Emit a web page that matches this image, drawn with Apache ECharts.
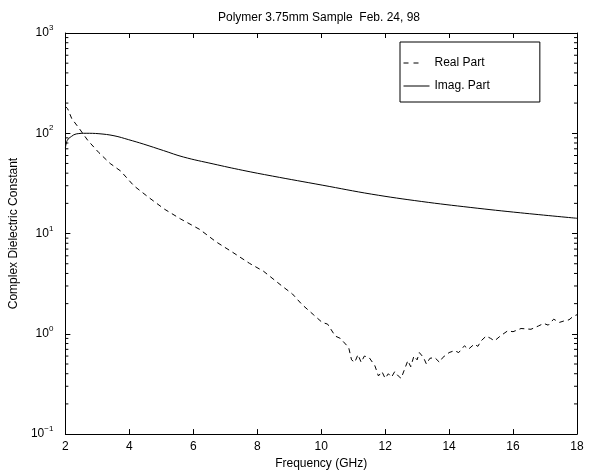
<!DOCTYPE html>
<html>
<head>
<meta charset="utf-8">
<script src="https://cdn.jsdelivr.net/npm/echarts@6/dist/echarts.min.js"></script>
<style>html,body{margin:0;padding:0;background:#fff;}#c{width:589px;height:475px;}</style>
</head>
<body>
<div id="c"></div>
<script>
const titleText = 'Polymer 3.75mm Sample  Feb. 24, 98';
const xName = 'Frequency (GHz)';
const yName = 'Complex Dielectric Constant';
const seriesNames = ['Real Part', 'Imag. Part'];

const imagFreq = [2.0, 2.06, 2.19, 2.34, 2.65, 3.05, 3.52, 3.98, 4.45, 5.07, 5.69, 6.62, 7.55, 8.48, 10.03, 11.58, 13.13, 14.68, 16.23, 18.0];
const imagVals = [71, 85, 93, 98.5, 100, 99, 94.5, 86.3, 77.9, 67.2, 58.0, 49.5, 42.7, 37.4, 30.4, 24.7, 20.9, 18.2, 16.1, 14.2];

const realFreq = [2.0, 2.07, 2.2, 2.43, 2.7, 3.05, 3.4, 3.73, 4.14, 4.6, 5.1, 5.6, 6.2, 6.72, 7.2, 7.76, 8.2, 8.79, 9.1, 9.4, 9.75, 10.03, 10.2, 10.44, 10.6, 10.86, 10.95, 11.05, 11.15, 11.25, 11.35, 11.5, 11.68, 11.79, 11.9, 12.0, 12.1, 12.2, 12.3, 12.41, 12.5, 12.56, 12.71, 12.8, 12.9, 13.0, 13.07, 13.2, 13.29, 13.4, 13.55, 13.7, 13.8, 14.0, 14.17, 14.3, 14.48, 14.6, 14.79, 14.9, 15.0, 15.16, 15.3, 15.42, 15.6, 15.83, 16.0, 16.25, 16.56, 16.8, 16.96, 17.1, 17.27, 17.45, 17.58, 17.75, 17.89, 18.0];
const realVals = [185, 176, 140, 112, 85, 64, 50, 42, 30, 23, 17.5, 14, 11, 8.24, 6.6, 5.04, 4.2, 2.97, 2.5, 1.96, 1.56, 1.3, 1.25, 0.95, 0.9, 0.73, 0.55, 0.52, 0.62, 0.52, 0.6, 0.58, 0.48, 0.38, 0.42, 0.36, 0.4, 0.37, 0.42, 0.38, 0.36, 0.37, 0.54, 0.47, 0.6, 0.55, 0.65, 0.58, 0.5, 0.57, 0.58, 0.52, 0.58, 0.65, 0.68, 0.65, 0.76, 0.7, 0.79, 0.75, 0.85, 0.95, 0.9, 0.85, 0.95, 1.07, 1.05, 1.13, 1.11, 1.2, 1.27, 1.22, 1.4, 1.3, 1.34, 1.38, 1.5, 1.55];

const xTickValues = [2, 4, 6, 8, 10, 12, 14, 16, 18];
const yDecades = [0.1, 1, 10, 100, 1000];

const FONT = 'Liberation Sans, Arial, Helvetica, sans-serif';
const minorVals = [];
for (let d = 0; d < yDecades.length - 1; d++) {
  for (let m = 2; m <= 9; m++) minorVals.push([2, yDecades[d] * m]);
}

function zip(a, b) { return a.map((v, i) => [v, b[i]]); }

const chart = echarts.init(document.getElementById('c'), null, { renderer: 'canvas' });
const axisLineStyle = { color: '#000', width: 1 };
chart.setOption({
  animation: false,
  backgroundColor: '#fff',
  textStyle: { fontFamily: FONT, color: '#000' },
  title: {
    text: titleText, left: 319, top: 12, textAlign: 'center', padding: 0,
    textStyle: { fontFamily: FONT, fontSize: 12, fontWeight: 'normal', color: '#000' }
  },
  grid: { left: 61, right: 12, top: 33, bottom: 36, containLabel: false },
  legend: {
    left: 400, top: 42, orient: 'vertical',
    data: [
      { name: seriesNames[0], lineStyle: { width: 1, type: [5, 5, 5, 30], color: '#000' } },
      { name: seriesNames[1], lineStyle: { width: 1, type: 'solid', color: '#000' } }
    ],
    itemWidth: 26, itemHeight: 14, itemGap: 11,
    padding: [15, 50, 10, 3],
    borderColor: '#000', borderWidth: 1, backgroundColor: '#fff',
    itemStyle: { opacity: 0 },
    lineStyle: { width: 1 },
    textStyle: { fontFamily: FONT, fontSize: 12, color: '#000' },
    selectedMode: false
  },
  xAxis: [{
    type: 'value', min: 2, max: 18, interval: 2,
    name: xName, nameLocation: 'middle', nameGap: 21,
    nameTextStyle: { fontFamily: FONT, fontSize: 12, color: '#000' },
    axisLine: { show: true, lineStyle: axisLineStyle },
    axisTick: { show: true, inside: true, length: 5, lineStyle: axisLineStyle },
    axisLabel: { color: '#000', fontFamily: FONT, fontSize: 12, margin: 7 },
    splitLine: { show: false }
  }, {
    type: 'value', min: 2, max: 18, interval: 2, position: 'top',
    axisLine: { show: true, lineStyle: axisLineStyle },
    axisTick: { show: true, inside: true, length: 5, lineStyle: axisLineStyle },
    axisLabel: { show: false },
    splitLine: { show: false }
  }],
  yAxis: [{
    type: 'log', logBase: 10, min: 0.1, max: 1000, interval: 1,
    name: yName, nameLocation: 'middle', nameGap: 30, nameRotate: 90,
    nameTextStyle: { fontFamily: FONT, fontSize: 12, color: '#000' },
    axisLine: { show: true, lineStyle: axisLineStyle },
    axisTick: { show: true, inside: true, length: 5, lineStyle: axisLineStyle },
    axisLabel: {
      color: '#000', fontFamily: FONT, fontSize: 12, margin: 12,
      formatter: function (v) {
        const e = Math.round(Math.log10(v));
        return '{b|10}{s|' + (e < 0 ? '\u2212' + (-e) : e) + '}';
      },
      rich: {
        b: { fontFamily: FONT, fontSize: 12, color: '#000' },
        s: { fontFamily: FONT, fontSize: 8, color: '#000', padding: [0, 0, 10, 0] }
      }
    },
    splitLine: { show: false }
  }, {
    type: 'log', logBase: 10, min: 0.1, max: 1000, interval: 1, position: 'right',
    axisLine: { show: true, lineStyle: axisLineStyle },
    axisTick: { show: true, inside: true, length: 5, lineStyle: axisLineStyle },
    axisLabel: { show: false },
    splitLine: { show: false }
  }],
  series: [{
    name: seriesNames[0], type: 'line', data: zip(realFreq, realVals),
    showSymbol: false, symbol: 'none', smooth: false,
    lineStyle: { color: '#000', width: 1, type: [5, 4] },
    itemStyle: { color: '#000' }
  }, {
    name: seriesNames[1], type: 'line', data: zip(imagFreq, imagVals),
    showSymbol: false, symbol: 'none', smooth: 0.4,
    lineStyle: { color: '#000', width: 1, type: 'solid' },
    itemStyle: { color: '#000' }
  }, {
    type: 'custom', silent: true, data: minorVals,
    renderItem: function (params, api) {
      const v = api.value(1);
      const p1 = api.coord([2, v]);
      const p2 = api.coord([18, v]);
      return {
        type: 'group', children: [
          { type: 'line', shape: { x1: p1[0], y1: p1[1], x2: p1[0] + 3, y2: p1[1] }, style: { stroke: '#000', lineWidth: 1 } },
          { type: 'line', shape: { x1: p2[0] - 3, y1: p2[1], x2: p2[0], y2: p2[1] }, style: { stroke: '#000', lineWidth: 1 } }
        ]
      };
    }
  }]
});
</script>
</body>
</html>
